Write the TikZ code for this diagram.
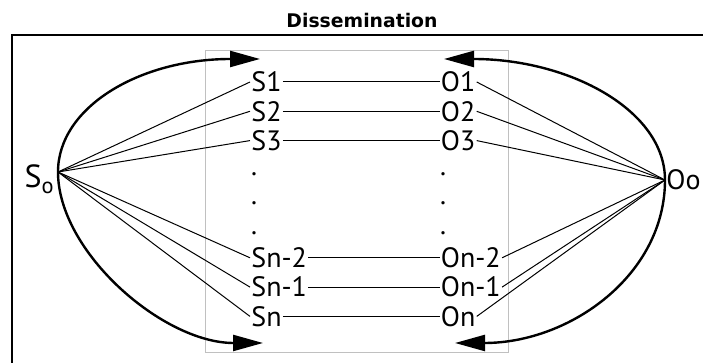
\documentclass[tikz,border=0pt]{standalone}
\usepackage{fontspec}
\setmainfont{PT Sans}
\newfontfamily\titlefont{DejaVu Sans}
\usetikzlibrary{arrows.meta}
\definecolor{boxgray}{RGB}{192,192,192}
\tikzset{
  lbl/.style={inner sep=0.5pt, font=\fontsize{14}{16}\selectfont},
  fan/.style={black, line width=0.5pt},
  flow/.style={black, line width=1.2pt, -{Triangle[length=15pt,width=8pt]}}
}
\begin{document}
\begin{tikzpicture}[x=0.5pt, y=0.5pt]
 \useasboundingbox (0,0) rectangle (703,363);
 % frame and title
 \draw[black, line width=1pt] (703,328) -- (12,328) -- (12,0);
 \node[inner sep=0pt, font=\titlefont\bfseries\fontsize{9.4}{11}\selectfont] (title) at (362,343) {Dissemination};
 \draw[boxgray, line width=0.5pt] (205,10) rectangle (508,312);
 % hubs
 \coordinate (S0) at (58,191);
 \coordinate (O0) at (665,183);
 \node[inner sep=0pt, anchor=base east, font=\fontsize{16}{18}\selectfont] (S0lbl) at (55,175) {S\textsubscript{o}};
 \node[lbl, anchor=west] (O0lbl) at (O0) {Oo};
 % rows
 \foreach \name/\idx/\row in {1/1/0, 2/2/1, 3/3/2, n2/n-2/6, n1/n-1/7, n/n/8} {
   \node[lbl, anchor=west] (S\name) at (250,281-29.3*\row) {S\idx};
   \node[lbl, anchor=west] (O\name) at (439.5,281-29.3*\row) {O\idx};
 }
 \foreach \row in {0,1,2} {
   \node[lbl, anchor=base] (dotS\row) at (254,187.5-29.3*\row) {.};
   \node[lbl, anchor=base] (dotO\row) at (443,187.5-29.3*\row) {.};
 }
 % connectors
 \foreach \name in {1,2,3,n2,n1,n} {
   \draw[fan] (S0) -- (S\name.west);
   \draw[fan] (S\name) -- (O\name);
   \draw[fan] (O\name.east) -- (O0);
 }
 % arrows
 \coordinate (topL) at (260,304);
 \coordinate (botL) at (263,20);
 \coordinate (topR) at (444,304);
 \coordinate (botR) at (455,20);
 \draw[flow] (S0) .. controls +(0,65) and +(-120,0) .. (topL);
 \draw[flow] (S0) .. controls +(0,-80) and +(-100,0) .. (botL);
 \draw[flow] (O0) .. controls +(0,70) and +(125,0) .. (topR);
 \draw[flow] (O0) .. controls +(0,-95) and +(115,0) .. (botR);
\end{tikzpicture}
\end{document}
